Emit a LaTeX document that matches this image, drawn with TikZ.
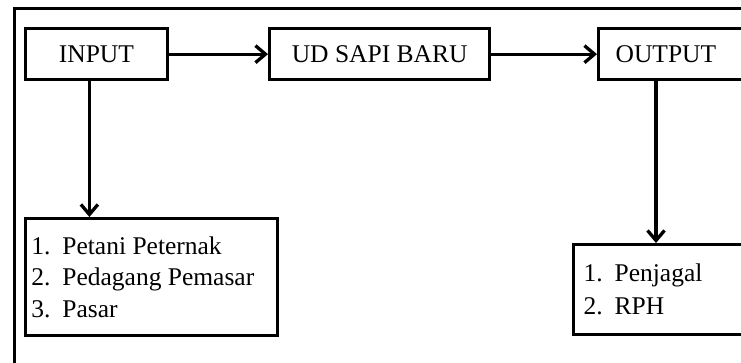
\documentclass[tikz,border=0pt]{standalone}
\usepackage{fontspec}
\setmainfont{Liberation Serif}
\usetikzlibrary{arrows.meta,calc}
\tikzset{
  boxnode/.style={draw, line width=3.3pt, rectangle, inner sep=0pt,
    font=\fontsize{25.5}{31.7}\selectfont},
  listnode/.style={boxnode, anchor=north west, align=left, inner xsep=3pt},
  arr/.style={line width=3.3pt, -{Straight Barb[length=10pt,width=17pt,line width=3.3pt]}},
  frame/.style={line width=3pt}
}
\newcommand{\itemnum}[1]{\makebox[31pt][l]{#1}}
\newcommand{\normalspaces}{\spaceskip=0pt\relax\xspaceskip=0pt\relax}
\begin{document}
\begin{tikzpicture}[x=1pt,y=-1pt]
\useasboundingbox (0,0) rectangle (741,362);
\clip (0,0) rectangle (741,362);
\draw[frame] (14.5,8) rectangle (800,420);
\node[boxnode, anchor=north west, minimum width=142.5pt, minimum height=51pt] (input) at (23.5,27) {INPUT};
\node[boxnode, anchor=north west, minimum width=220pt, minimum height=51pt] (sapi) at (268,27) {UD SAPI BARU};
\node[boxnode, anchor=north west, minimum width=180pt, minimum height=51pt,
      text width=150pt, align=left, inner xsep=17pt] (output) at (597,27) {OUTPUT};
\node[listnode, minimum width=252.5pt, minimum height=117pt, text width=240pt] (list1) at (23.5,217)
  {\normalspaces\itemnum{1.}Petani Peternak\\\itemnum{2.}Pedagang Pemasar\\\itemnum{3.}Pasar};
\node[listnode, minimum width=200pt, minimum height=90pt, text width=180pt] (list2) at (572,243)
  {\normalspaces\raisebox{0pt}[\height][0pt]{\itemnum{1.}Penjagal}\\[1pt]\itemnum{2.}RPH};
\draw[arr] (input.east) -- (sapi.west);
\draw[arr] (sapi.east) -- (output.west);
\draw[arr] ([xshift=-7pt]input.south) -- ([xshift=-7pt]input.south |- list1.north);
\coordinate (outdrop) at ($(output.south west)+(59,0)$);
\draw[arr] (outdrop) -- (outdrop |- list2.north);
\end{tikzpicture}
\end{document}
